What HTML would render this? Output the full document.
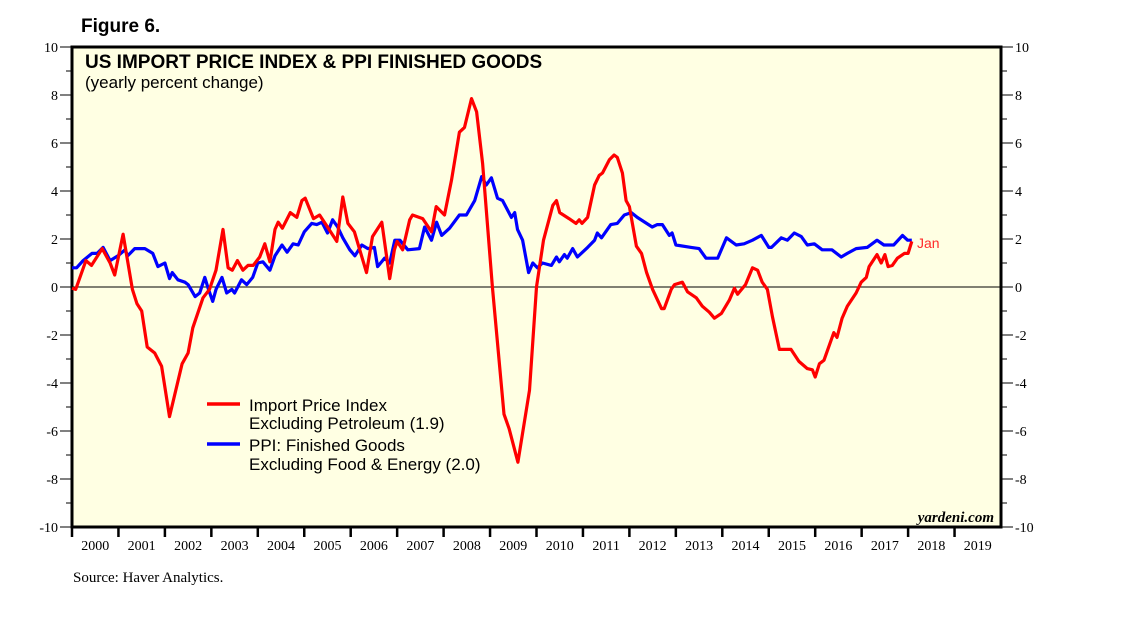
<!DOCTYPE html>
<html><head><meta charset="utf-8"><style>
body{margin:0;background:#fff;width:1138px;height:621px;overflow:hidden}
svg text{font-family:"Liberation Sans",sans-serif}
.serif{font-family:"Liberation Serif",serif}
</style></head><body>
<svg id="chart" width="1138" height="621" viewBox="0 0 1138 621" xmlns="http://www.w3.org/2000/svg">
<text x="81" y="32" font-size="19" font-weight="bold">Figure 6.</text>
<rect x="72" y="47" width="929" height="480" fill="#FFFFE3" stroke="#000" stroke-width="3"/>
<g id="axes"></g>
<line x1="72" x2="1001" y1="287" y2="287" stroke="#000" stroke-width="1"/>
<text x="85" y="68" font-size="19" font-weight="bold">US IMPORT PRICE INDEX &amp; PPI FINISHED GOODS</text>
<text x="85" y="88" font-size="17">(yearly percent change)</text>
<g id="series"></g>
<text x="917" y="248" font-size="14" fill="#ff2a2a">Jan</text>
<g>
<line x1="207" x2="240" y1="404" y2="404" stroke="#f00" stroke-width="3.5"/>
<text x="249" y="411" font-size="17">Import Price Index</text>
<text x="249" y="429" font-size="17">Excluding Petroleum (1.9)</text>
<line x1="207" x2="240" y1="444" y2="444" stroke="#00f" stroke-width="3.5"/>
<text x="249" y="451" font-size="17">PPI: Finished Goods</text>
<text x="249" y="470" font-size="17">Excluding Food &amp; Energy (2.0)</text>
</g>
<text class="serif" x="994" y="522" font-size="15" font-weight="bold" font-style="italic" text-anchor="end">yardeni.com</text>
<text class="serif" x="73" y="582" font-size="15">Source: Haver Analytics.</text>
</svg>
<script>
const yearLabels=[2000,2001,2002,2003,2004,2005,2006,2007,2008,2009,2010,2011,2012,2013,2014,2015,2016,2017,2018,2019];
const yTicks=[-10,-8,-6,-4,-2,0,2,4,6,8,10];
const importDates=[2000.0,2000.08,2000.3,2000.42,2000.65,2000.82,2000.92,2001.1,2001.3,2001.4,2001.5,2001.62,2001.78,2001.93,2002.1,2002.37,2002.5,2002.6,2002.82,2002.96,2003.1,2003.25,2003.36,2003.45,2003.56,2003.68,2003.79,2003.9,2004.04,2004.15,2004.26,2004.37,2004.44,2004.53,2004.7,2004.84,2004.95,2005.02,2005.2,2005.33,2005.5,2005.7,2005.83,2005.94,2006.08,2006.34,2006.47,2006.67,2006.84,2006.94,2007.0,2007.12,2007.27,2007.33,2007.55,2007.74,2007.84,2008.02,2008.17,2008.34,2008.45,2008.6,2008.71,2008.84,2009.05,2009.3,2009.41,2009.6,2009.85,2010.0,2010.15,2010.35,2010.43,2010.5,2010.7,2010.85,2010.92,2010.98,2011.1,2011.25,2011.35,2011.42,2011.57,2011.67,2011.74,2011.85,2011.93,2012.0,2012.15,2012.26,2012.37,2012.5,2012.69,2012.75,2012.9,2012.97,2013.14,2013.25,2013.44,2013.57,2013.72,2013.83,2013.98,2014.15,2014.26,2014.33,2014.5,2014.65,2014.76,2014.86,2014.97,2015.08,2015.23,2015.48,2015.65,2015.83,2015.94,2016.0,2016.09,2016.19,2016.4,2016.47,2016.58,2016.69,2016.88,2016.99,2017.1,2017.16,2017.33,2017.42,2017.5,2017.57,2017.66,2017.77,2017.92,2018.0,2018.08];
const importValues=[-0.05,-0.1,1.1,0.9,1.6,1.0,0.5,2.2,-0.1,-0.7,-1.0,-2.5,-2.75,-3.3,-5.4,-3.2,-2.75,-1.7,-0.45,-0.1,0.7,2.4,0.8,0.7,1.1,0.7,0.9,0.9,1.25,1.8,1.05,2.4,2.7,2.45,3.1,2.9,3.6,3.7,2.85,3.0,2.5,1.9,3.75,2.65,2.3,0.6,2.1,2.7,0.35,1.55,1.9,1.55,2.8,3.0,2.85,2.3,3.35,3.0,4.45,6.45,6.65,7.85,7.3,5.15,0,-5.3,-5.9,-7.3,-4.3,0,1.95,3.4,3.6,3.1,2.85,2.65,2.8,2.65,2.9,4.25,4.65,4.75,5.3,5.5,5.4,4.75,3.6,3.35,1.7,1.4,0.6,-0.1,-0.9,-0.9,-0.1,0.1,0.2,-0.2,-0.45,-0.8,-1.05,-1.3,-1.1,-0.55,-0.05,-0.3,0.1,0.8,0.7,0.2,-0.1,-1.25,-2.6,-2.6,-3.1,-3.4,-3.45,-3.75,-3.2,-3.05,-1.9,-2.1,-1.3,-0.8,-0.25,0.2,0.4,0.85,1.35,1.0,1.35,0.85,0.9,1.2,1.4,1.4,1.9];
const ppiDates=[2000.0,2000.1,2000.24,2000.43,2000.54,2000.67,2000.82,2000.99,2001.14,2001.2,2001.35,2001.57,2001.74,2001.85,2002.0,2002.1,2002.16,2002.28,2002.43,2002.5,2002.65,2002.75,2002.86,2002.93,2003.03,2003.1,2003.23,2003.33,2003.44,2003.5,2003.65,2003.76,2003.89,2004.0,2004.11,2004.26,2004.37,2004.52,2004.63,2004.76,2004.87,2005.0,2005.16,2005.27,2005.38,2005.5,2005.61,2005.72,2005.83,2005.98,2006.09,2006.24,2006.37,2006.51,2006.58,2006.73,2006.84,2006.95,2007.06,2007.23,2007.48,2007.59,2007.74,2007.85,2007.96,2008.13,2008.34,2008.49,2008.67,2008.82,2008.92,2009.03,2009.16,2009.27,2009.46,2009.53,2009.59,2009.7,2009.83,2009.92,2010.02,2010.13,2010.32,2010.43,2010.49,2010.6,2010.66,2010.78,2010.88,2011.1,2011.25,2011.31,2011.4,2011.6,2011.74,2011.89,2012.04,2012.17,2012.37,2012.49,2012.6,2012.71,2012.86,2012.92,2013.0,2013.33,2013.5,2013.65,2013.78,2013.9,2014.09,2014.3,2014.47,2014.65,2014.84,2015.0,2015.06,2015.27,2015.4,2015.55,2015.7,2015.83,2015.98,2016.15,2016.36,2016.56,2016.69,2016.88,2017.12,2017.33,2017.48,2017.69,2017.88,2017.99,2018.08];
const ppiValues=[0.8,0.8,1.1,1.4,1.4,1.65,1.1,1.3,1.55,1.3,1.6,1.6,1.4,0.85,1.0,0.35,0.6,0.3,0.2,0.1,-0.4,-0.25,0.4,-0.05,-0.6,-0.1,0.4,-0.25,-0.1,-0.25,0.3,0.1,0.4,1.0,1.05,0.7,1.3,1.75,1.45,1.8,1.75,2.3,2.65,2.6,2.7,2.25,2.8,2.5,2.05,1.55,1.3,1.75,1.6,1.65,0.85,1.2,1.0,1.95,1.95,1.55,1.6,2.5,1.95,2.7,2.15,2.45,3.0,3.0,3.6,4.6,4.25,4.55,3.7,3.6,2.9,3.1,2.4,1.95,0.6,1.0,0.8,1.0,0.9,1.25,1.05,1.35,1.2,1.6,1.25,1.65,1.95,2.25,2.05,2.6,2.65,3.0,3.1,2.9,2.65,2.5,2.6,2.6,2.15,2.25,1.75,1.65,1.6,1.2,1.2,1.2,2.05,1.75,1.8,1.95,2.15,1.65,1.65,2.05,1.95,2.25,2.1,1.75,1.8,1.55,1.55,1.25,1.4,1.6,1.65,1.95,1.75,1.75,2.15,1.95,1.95];
const X0=72,X1=1001,Y0=527,Y1=47;
function xs(d){return X0+(d-2000)/20*(X1-X0);}
function ys(v){return Y0-(v+10)/20*(Y0-Y1);}
const NS='http://www.w3.org/2000/svg';
const axes=document.getElementById('axes');
function mk(tag,attrs,parent){const e=document.createElementNS(NS,tag);for(const k in attrs)e.setAttribute(k,attrs[k]);parent.appendChild(e);return e;}
for(let v=-10;v<=10;v++){
  const y=ys(v);const major=v%2===0;
  const l=mk('line',{x1:major?60:66,x2:X0,y1:y,y2:y,stroke:'#000','stroke-width':1},axes);
  
  
  const r=mk('line',{x1:X1,x2:major?1013:1007,y1:y,y2:y,stroke:'#000','stroke-width':1},axes);
  
  
}
yTicks.forEach(v=>{
  const y=ys(v);
  const t=mk('text',{x:58,y:y+5,'font-size':14,'text-anchor':'end',class:'serif'},axes);
  t.textContent=v;
  
  
  const t2=mk('text',{x:1015,y:y+5,'font-size':14,class:'serif'},axes);
  t2.textContent=v;
  
  
});
yearLabels.forEach(yr=>{
  const x=xs(yr);
  const tk=mk('line',{x1:x,x2:x,y1:Y0,y2:Y0+10,stroke:'#000','stroke-width':2.5},axes);
  
  
  const t=mk('text',{x:xs(yr+0.5),y:Y0+23,'font-size':14,'text-anchor':'middle',class:'serif'},axes);
  t.textContent=yr;
  
  
});
const ser=document.getElementById('series');
function path(dates,vals,color,name){
  const d=dates.map((t,i)=>(i?'L':'M')+xs(t).toFixed(1)+' '+ys(vals[i]).toFixed(1)).join(' ');
  const p=mk('path',{d:d,fill:'none',stroke:color,'stroke-width':3.2,'stroke-linejoin':'round'},ser);
  
  
}
path(ppiDates,ppiValues,'#0000ff','ppi-line');
path(importDates,importValues,'#ff0000','import-price-line');
</script>
</body></html>
